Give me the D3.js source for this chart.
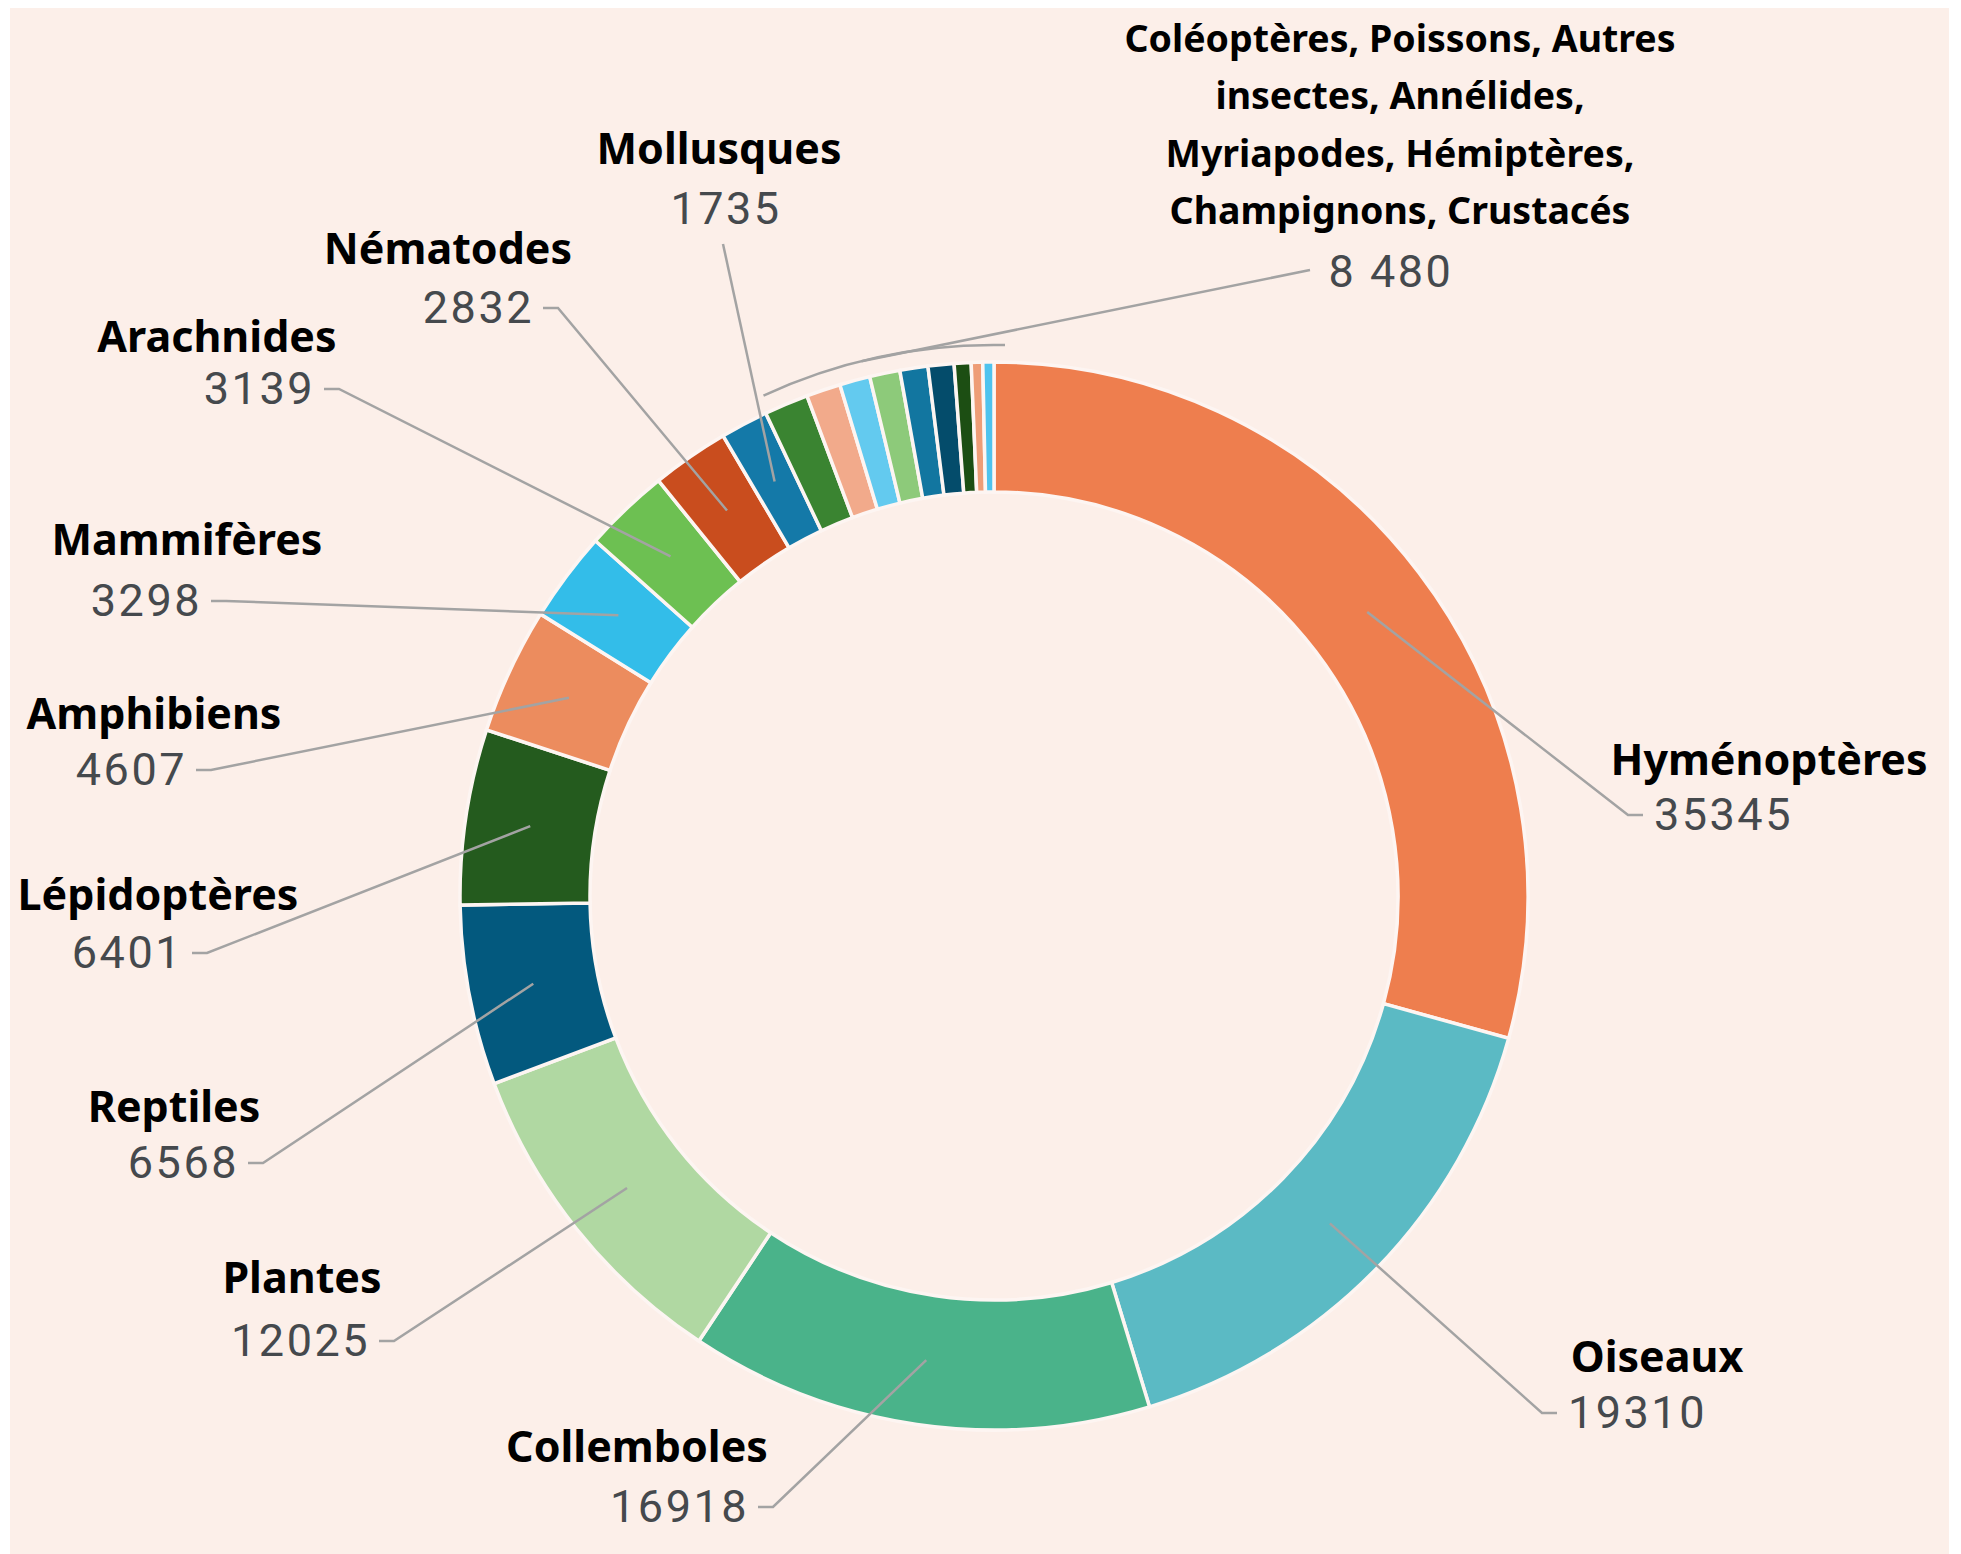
<!DOCTYPE html>
<html>
<head>
<meta charset="utf-8">
<script src="https://cdn.jsdelivr.net/npm/d3@7"></script>
<style>
  html, body { margin: 0; padding: 0; background: #ffffff; }
  svg { display: block; }
  .name { font-family: "Noto Sans", sans-serif; font-weight: 700; fill: #000; }
  .num { font-family: Roboto, sans-serif; font-weight: 400; fill: #45494d; letter-spacing: 2.5px; }
  .leader { fill: none; stroke: #a3a3a3; stroke-width: 2.5; }
</style>
</head>
<body>
<script>
// --- data
const groups = ['Hyménoptères', 'Oiseaux', 'Collemboles', 'Plantes', 'Reptiles', 'Lépidoptères',
    'Amphibiens', 'Mammifères', 'Arachnides', 'Nématodes', 'Mollusques']
const counts = [35345, 19310, 16918, 12025, 6568, 6401, 4607, 3298, 3139, 2832, 1735]
const groupColors = ['#ee7e4e', '#5bbac4', '#4ab38a', '#b0d8a2', '#03597e', '#245b1e',
    '#ec8c5e', '#33bde9', '#6dc052', '#c94d1e', '#1479a8']

// small groups, shown together with one label
const otherGroups = ['Coléoptères', 'Poissons', 'Autres insectes', 'Annélides', 'Myriapodes',
    'Hémiptères', 'Champignons', 'Crustacés', 'Divers']
const otherCounts = [1609, 1250, 1110, 1105, 1023, 945, 615, 418, 405]
const otherColors = ['#3a8431', '#f2aa8b', '#63caef', '#8dca7a', '#1276a0', '#044c6b',
    '#1c4e13', '#ee9d77', '#4fc3ee']
const otherLabel = ['Coléoptères, Poissons, Autres', 'insectes, Annélides,',
    'Myriapodes, Hémiptères,', 'Champignons, Crustacés']
const otherTotal = '8 480'

// label placement: elbow of the leader, side of the number, name centre and baseline
const labelSpots = {
    'Hyménoptères': {ex: 1628, ey: 815, side: 'right', nx: 1769, ny: 775},
    'Oiseaux':      {ex: 1542, ey: 1413, side: 'right', nx: 1657, ny: 1372},
    'Collemboles':  {ex: 773, ey: 1507, side: 'left', nx: 637, ny: 1462},
    'Plantes':      {ex: 394, ey: 1341, side: 'left', nx: 302, ny: 1293},
    'Reptiles':     {ex: 263, ey: 1163, side: 'left', nx: 174, ny: 1122},
    'Lépidoptères': {ex: 207, ey: 953, side: 'left', nx: 158, ny: 910},
    'Amphibiens':   {ex: 211, ey: 770, side: 'left', nx: 154, ny: 729},
    'Mammifères':   {ex: 226, ey: 601, side: 'left', nx: 187, ny: 555},
    'Arachnides':   {ex: 339, ey: 389, side: 'left', nx: 217, ny: 352},
    'Nématodes':    {ex: 558, ey: 308, side: 'left', nx: 448, ny: 264},
    'Mollusques':   {ex: 723, ey: 244, side: 'top', nx: 719, ny: 164}
}

const width = 1961, height = 1554
const cx = 994, cy = 896
const rInner = 404, rOuter = 534

const slices = groups.map((g, i) => ({name: g, value: counts[i], color: groupColors[i]}))
    .concat(otherGroups.map((g, i) => ({name: g, value: otherCounts[i], color: otherColors[i], other: true})))

const svg = d3.select('body').append('svg')
    .attr('width', width).attr('height', height)

svg.append('rect')
    .attr('x', 10).attr('y', 8)
    .attr('width', 1939).attr('height', height - 8)
    .attr('fill', '#fcefe9')

const pie = d3.pie().sort(null).value(d => d.value)
const arc = d3.arc().innerRadius(rInner).outerRadius(rOuter)
const arcs = pie(slices)

const g = svg.append('g').attr('transform', `translate(${cx},${cy})`)

g.selectAll('path.slice')
    .data(arcs)
    .join('path')
    .attr('class', 'slice')
    .attr('d', arc)
    .attr('fill', d => d.data.color)
    .attr('stroke', '#fdf5f2')
    .attr('stroke-width', 3.5)

// --- labels for the named groups
const labelled = arcs.filter(d => !d.data.other)
const tick = 15, gap = 11

labelled.forEach(d => {
    const s = labelSpots[d.data.name]
    const [px, py] = arc.centroid(d)
    const start = [cx + px, cy + py]
    let pts, numX, anchor
    if (s.side === 'right') {
        pts = [start, [s.ex, s.ey], [s.ex + tick, s.ey]]
        numX = s.ex + tick + gap; anchor = 'start'
    } else if (s.side === 'left') {
        pts = [start, [s.ex, s.ey], [s.ex - tick, s.ey]]
        numX = s.ex - tick - gap + 2; anchor = 'end'
    } else {
        pts = [start, [s.ex, s.ey]]
        numX = s.ex + 3; anchor = 'middle'
    }
    svg.append('path').attr('class', 'leader').attr('d', d3.line()(pts))

    const numY = s.side === 'top' ? s.ey - 20 : s.ey + 15
    svg.append('text').attr('class', 'num')
        .attr('x', numX).attr('y', numY)
        .attr('text-anchor', anchor)
        .style('font-size', '45px')
        .text(d.data.value)
    svg.append('text').attr('class', 'name')
        .attr('x', s.nx).attr('y', s.ny)
        .attr('text-anchor', 'middle')
        .style('font-size', '43px')
        .text(d.data.name)
})

// --- the grouped small slices: bracket arc + one leader
const others = arcs.filter(d => d.data.other)
const a0 = d3.min(others, d => d.startAngle), a1 = d3.max(others, d => d.endAngle)
const rBracket = 551
const bracket = d3.path()
bracket.arc(0, 0, rBracket, a0 + 0.01 - Math.PI / 2, a1 + 0.02 - Math.PI / 2)
svg.append('path').attr('class', 'leader')
    .attr('transform', `translate(${cx},${cy})`)
    .attr('d', bracket.toString())

const aJoin = a0 + (a1 - a0) * 0.45
const joinPt = [cx + rBracket * Math.sin(aJoin), cy - rBracket * Math.cos(aJoin)]
svg.append('path').attr('class', 'leader')
    .attr('d', d3.line()([[1310, 270], joinPt]))

svg.append('text').attr('class', 'num')
    .attr('x', 1391).attr('y', 287)
    .attr('text-anchor', 'middle')
    .style('font-size', '45px')
    .text(otherTotal)

svg.append('text').attr('class', 'name')
    .attr('text-anchor', 'middle')
    .style('font-size', '37.5px')
    .selectAll('tspan')
    .data(otherLabel)
    .join('tspan')
    .attr('x', 1400)
    .attr('y', (d, i) => 52 + i * 57.3)
    .text(d => d)
</script>
</body>
</html>
